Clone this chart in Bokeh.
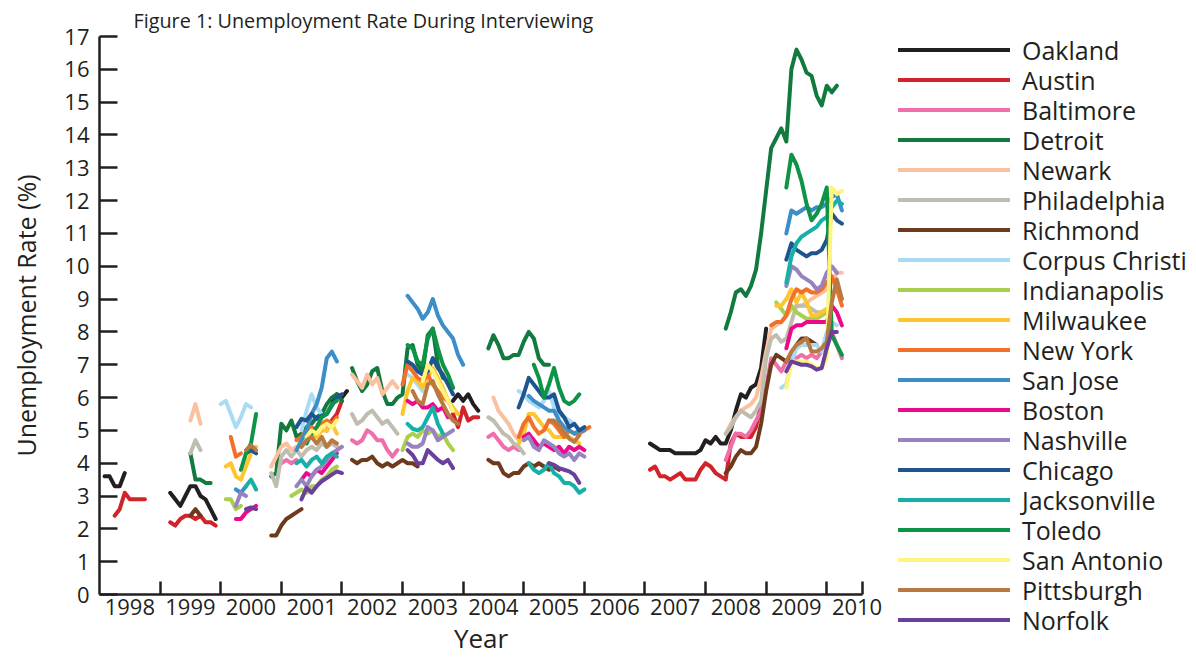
import numpy as np
from bokeh.plotting import figure
from bokeh.layouts import row
from bokeh.models import FixedTicker, Range1d, Div
from bokeh.embed import file_html
from bokeh.resources import INLINE

# ---------------- data ----------------
cities = ["Oakland", "Austin", "Baltimore", "Detroit", "Newark", "Philadelphia",
          "Richmond", "Corpus Christi", "Indianapolis", "Milwaukee", "New York",
          "San Jose", "Boston", "Nashville", "Chicago", "Jacksonville", "Toledo",
          "San Antonio", "Pittsburgh", "Norfolk"]
colors = ["#231f20", "#d2232a", "#f06ea9", "#127a3e", "#fbc0a0", "#bebdb0",
          "#6e3a1e", "#a9dcf4", "#a9cf4f", "#fdc62f", "#f3702b", "#3c8ec8",
          "#eb0a8c", "#9683c0", "#1e5590", "#17b0a7", "#0d9447", "#fff47e",
          "#b97a42", "#6a409c"]

# each series: list of (first month "YYYY-MM", monthly unemployment rates %)
oakland = [("1998-02", [3.6, 3.6, 3.3, 3.3, 3.7]),
           ("1999-03", [3.1, 2.9, 2.7, 3.0, 3.3, 3.3, 3.0, 2.9, 2.6, 2.3]),
           ("2001-11", [5.9, 6.1, 6.0, 6.2]),
           ("2003-11", [5.9, 6.1, 5.9, 6.1, 5.8, 5.6]),
           ("2007-02", [4.6, 4.5, 4.4, 4.4, 4.4, 4.3, 4.3, 4.3, 4.3, 4.3, 4.4, 4.7,
                        4.6, 4.8, 4.6, 4.6, 5.0, 5.6, 6.1, 6.0, 6.3, 6.4, 6.9, 8.1])]
austin = [("1998-04", [2.4, 2.6, 3.1, 2.9, 2.9, 2.9, 2.9]),
          ("1999-03", [2.2, 2.1, 2.3, 2.4, 2.4, 2.3, 2.4, 2.2, 2.2, 2.1]),
          ("2001-10", [5.0, 5.3, 5.5, 5.9]),
          ("2003-11", [5.5, 5.1, 5.7, 5.3, 5.4, 5.4]),
          ("2007-02", [3.8, 3.9, 3.6, 3.6, 3.5, 3.6, 3.7, 3.5, 3.5, 3.5, 3.8, 4.0,
                       3.9, 3.7, 3.6, 3.5, 4.6, 4.9, 4.8, 4.8, 4.8, 5.1, 5.8])]
baltimore = [("2001-01", [4.0, 4.1, 4.0, 4.1]),
             ("2002-03", [4.7, 4.6, 4.7, 5.0, 4.9, 4.7, 4.7, 4.4, 4.2, 4.4]),
             ("2004-06", [4.8, 4.9, 4.7, 4.5, 4.4, 4.5, 4.4]),
             ("2008-05", [4.1, 4.5, 4.9, 4.9, 4.8, 5.0, 5.3, 5.6, 6.3, 7.2, 7.0, 6.8,
                          7.1, 7.2, 7.2, 7.3, 7.2, 7.3, 7.2, 7.4, 7.6, 8.0, 7.6, 7.2])]
detroit = [("1999-07", [4.3, 3.5, 3.5, 3.4, 3.4]),
           ("2000-11", [3.6, 3.7, 5.2, 5.0, 5.3, 4.8, 4.9, 5.1, 5.2, 5.4, 5.5, 5.8,
                        6.0, 6.1, 5.9]),
           ("2002-03", [6.9, 6.5, 6.2, 6.4, 6.8, 6.9, 6.2, 5.8, 5.8, 6.0, 6.1, 7.5,
                        7.6, 7.0, 6.8, 7.9, 8.1, 7.0, 6.6, 6.5, 6.3]),
           ("2004-06", [7.5, 7.9, 7.6, 7.2, 7.2, 7.3, 7.3, 7.7, 8.0, 7.8, 7.2, 7.0, 7.0]),
           ("2008-05", [8.1, 8.6, 9.2, 9.3, 9.1, 9.4, 9.9, 11.0, 12.3, 13.6, 13.9, 14.2,
                        13.8, 16.0, 16.6, 16.3, 15.9, 15.8, 15.2, 14.9, 15.5, 15.3, 15.5])]
newark = [("1999-07", [5.3, 5.8, 5.2]),
          ("2000-11", [3.9, 4.2, 4.5, 4.6, 4.4, 4.5]),
          ("2002-03", [6.7, 6.5, 6.3, 6.7, 6.4, 6.6, 6.1, 6.3, 6.5, 6.3]),
          ("2004-07", [6.0, 5.6, 5.4, 5.2, 4.9, 4.7]),
          ("2008-05", [4.9, 5.2, 5.4, 5.6, 5.7, 5.8, 6.0, 6.6, 7.4, 8.1, 8.2, 8.3,
                       8.5, 8.7, 8.8, 8.8, 8.9, 9.0, 9.1, 9.2, 9.3, 9.5, 9.8, 9.8])]
philadelphia = [("1999-07", [4.3, 4.7, 4.4]),
                ("2000-11", [3.7, 3.3, 4.2, 4.4, 4.2, 4.4, 4.2, 4.4, 4.5, 4.4, 4.6, 4.5,
                             4.6, 4.5]),
                ("2002-03", [5.5, 5.2, 5.3, 5.5, 5.6, 5.4, 5.2, 5.3, 5.1, 4.9]),
                ("2004-06", [5.4, 5.3, 5.1, 4.9, 4.8, 4.6, 4.5, 4.3]),
                ("2008-05", [4.9, 5.1, 5.4, 5.6, 5.5, 5.4, 5.6, 5.9, 7.2, 7.8, 7.9, 7.7,
                             7.8, 8.3, 8.8, 8.8, 8.8, 8.7, 8.6, 8.6, 8.7])]
richmond = [("1999-07", [2.4, 2.6, 2.4]),
            ("2000-11", [1.8, 1.8, 2.1, 2.3, 2.4, 2.5, 2.6]),
            ("2002-03", [4.1, 4.0, 4.1, 4.1, 4.2, 4.0, 3.9, 4.0, 3.9, 4.0, 4.1, 4.0, 4.0, 3.9]),
            ("2004-06", [4.1, 4.0, 4.0, 3.7, 3.6, 3.7, 3.7, 3.9, 4.0, 3.9, 4.0, 3.9, 3.8, 3.9, 3.8]),
            ("2008-05", [3.7, 3.9, 4.2, 4.4, 4.3, 4.3, 4.5, 5.2, 6.2, 7.0, 7.3, 7.2,
                         7.1, 7.3, 7.6, 7.8, 7.8, 7.7, 7.6])]
corpus_christi = [("2000-01", [5.8, 5.9, 5.5, 5.1, 5.4, 5.8, 5.7]),
                  ("2001-05", [5.0, 5.6, 6.1, 5.7, 5.5]),
                  ("2003-02", [6.7, 6.6, 6.4, 6.2]),
                  ("2004-12", [6.2, 6.1, 5.9, 5.8, 5.7, 5.9, 6.2, 5.7, 5.5, 5.4, 5.3, 5.2]),
                  ("2009-04", [6.3, 6.4, 7.1, 7.5, 7.6, 7.6, 7.6, 7.6, 7.4, 8.0, 8.3, 8.2])]
indianapolis = [("2000-02", [2.9, 2.9, 2.6, 2.7]),
                ("2001-03", [3.0, 3.1, 3.2, 3.1, 3.3, 3.3, 3.5, 3.6, 3.8, 3.9]),
                ("2003-01", [4.4, 4.8, 4.9, 4.8, 5.0, 4.9, 5.0, 4.8, 4.9, 4.6, 4.4]),
                ("2009-03", [8.9, 8.7, 8.5, 8.8, 8.6, 8.5, 8.4, 8.4, 8.4, 8.5, 8.6])]
milwaukee = [("2000-02", [3.9, 4.0, 3.6, 3.5, 3.9, 4.3, 4.5]),
             ("2001-05", [4.5, 4.7, 4.9, 4.8, 5.0, 5.0, 5.2, 4.9]),
             ("2003-01", [5.5, 6.2, 6.6, 6.5, 6.3, 6.6, 6.9, 6.6, 6.3, 5.9, 5.7, 5.5]),
             ("2004-12", [4.6, 4.9, 5.5, 5.5, 5.3, 5.1, 5.0, 4.8, 4.8, 4.8, 4.8, 4.7, 4.6]),
             ("2009-03", [8.8, 8.8, 9.0, 9.3, 8.9, 9.2, 8.9, 8.5, 8.5, 8.6, 8.7])]
new_york = [("2000-03", [4.8, 4.2, 4.3]),
            ("2001-04", [4.7, 4.8, 5.0, 5.1, 5.0, 5.2, 5.3, 5.2, 5.4]),
            ("2003-01", [6.4, 7.0, 6.8, 6.6, 6.5, 6.7, 6.4, 6.2, 6.0, 5.9, 5.6]),
            ("2004-12", [4.8, 5.2, 5.4, 5.1, 4.9, 5.0, 5.3, 5.2, 5.0, 4.8, 5.0, 4.9, 4.9, 5.0, 5.1]),
            ("2009-02", [8.2, 8.3, 8.3, 8.5, 9.0, 9.3, 9.2, 9.3, 9.2, 9.2, 9.3, 9.5, 9.7, 9.3, 8.8])]
san_jose = [("2000-04", [3.2, 3.1, 3.3]),
            ("2001-04", [4.4, 4.7, 5.0, 5.5, 5.8, 6.3, 7.2, 7.4, 7.1]),
            ("2003-02", [9.1, 8.9, 8.7, 8.4, 8.6, 9.0, 8.5, 8.2, 8.0, 7.8, 7.3, 7.0]),
            ("2005-02", [6.05, 5.9, 5.8, 5.7, 5.6, 5.6, 5.3, 5.1, 5.0, 4.9, 5.0, 5.0]),
            ("2009-05", [11.0, 11.7, 11.6, 11.7, 11.8, 11.7, 11.8, 11.8, 11.9, 12.1, 12.2, 11.7])]
boston = [("2000-04", [2.3, 2.3, 2.5, 2.6, 2.7]),
          ("2001-05", [3.5, 3.7, 3.6, 3.8, 3.7, 3.9, 4.1, 4.3]),
          ("2003-02", [5.9, 5.8, 5.9, 5.7, 5.7, 5.8, 5.6, 5.7, 5.4]),
          ("2005-01", [4.8, 4.9, 4.7, 4.5, 4.6, 4.5, 4.4, 4.5, 4.3, 4.5, 4.4, 4.5, 4.4]),
          ("2009-05", [7.5, 8.1, 8.2, 8.2, 8.3, 8.3, 8.3, 8.3, 8.3, 8.8, 8.6, 8.2])]
nashville = [("2000-04", [2.7, 3.1, 3.0]),
             ("2001-04", [3.3, 3.5, 3.3, 3.6, 3.8, 3.9, 4.1, 4.3, 4.4, 4.5]),
             ("2003-02", [4.6, 4.5, 4.5, 4.6, 5.1, 5.0, 4.7, 4.8, 4.9, 5.0]),
             ("2005-01", [4.7, 4.8, 4.5, 4.4, 4.7, 4.6, 4.5, 4.3, 4.2, 4.3, 4.1, 4.3, 4.2]),
             ("2009-05", [9.4, 10.0, 9.9, 9.7, 9.6, 9.5, 9.3, 9.4, 9.8, 10.0, 9.8])]
chicago = [("2000-06", [4.3, 4.4, 4.3]),
           ("2001-04", [5.1, 5.35, 5.3, 5.5, 5.35, 5.45, 5.5, 5.75, 6.0, 6.1]),
           ("2003-02", [7.1, 7.0, 6.8, 6.7, 6.8, 7.2, 6.9, 6.7, 6.4, 6.1]),
           ("2004-12", [5.7, 6.1, 6.6, 6.4, 6.2, 6.0, 6.0, 6.1, 5.6, 5.4, 5.1, 5.2, 5.0, 5.1]),
           ("2009-05", [10.2, 10.7, 10.5, 10.4, 10.3, 10.4, 10.4, 10.5, 10.8, 11.6, 11.4, 11.3])]
jacksonville = [("2000-06", [3.3, 3.5, 3.2]),
                ("2001-04", [4.0, 4.1, 3.9, 4.1, 4.2, 4.0, 4.2, 4.3, 4.2]),
                ("2003-02", [5.2, 5.05, 5.0, 5.1, 5.4, 5.7, 5.2, 4.9]),
                ("2005-02", [4.0, 3.8, 3.7, 3.8, 4.0, 3.7, 3.6, 3.4, 3.4, 3.3, 3.1, 3.2]),
                ("2009-05", [9.5, 10.3, 10.7, 10.9, 11.0, 11.1, 11.2, 11.4, 11.5, 11.8, 12.0, 11.9])]
toledo = [("2000-05", [3.8, 4.3, 4.6, 5.5]),
          ("2001-06", [4.6, 4.9, 5.1, 5.4, 5.5, 5.8, 5.9]),
          ("2003-02", [7.6, 7.5, 7.1, 7.0, 7.8, 8.1, 7.5, 7.0, 6.7, 6.3]),
          ("2005-03", [7.0, 6.6, 6.0, 6.4, 6.9, 6.3, 5.9, 5.8, 5.9, 6.1]),
          ("2009-05", [12.4, 13.4, 13.1, 12.6, 11.9, 11.4, 11.6, 11.9, 12.4, 7.9, 7.6, 7.3])]
san_antonio = [("2001-06", [4.8, 5.0, 4.9, 5.1, 5.2, 5.1, 5.3]),
               ("2003-05", [6.5, 7.0, 6.8, 6.5, 6.2, 5.9, 5.6]),
               ("2009-05", [6.3, 7.1, 7.1, 7.1, 7.1, 7.0, 6.9, 6.9, 7.2, 12.4, 12.2, 12.3])]
pittsburgh = [("2000-06", [4.4, 4.55, 4.4]),
              ("2001-05", [4.5, 4.7, 4.8, 4.6, 4.8, 4.5, 4.7, 4.6]),
              ("2003-03", [6.2, 5.9, 5.8, 6.4, 6.5, 6.1, 5.8, 5.5, 5.3, 5.2]),
              ("2005-06", [5.3, 5.3, 5.15, 4.95, 4.75, 4.65, 4.85]),
              ("2009-05", [7.1, 7.4, 7.6, 7.7, 7.8, 7.4, 7.4, 7.5, 7.7, 8.9, 9.6, 9.0])]
norfolk = [("2000-06", [2.6, 2.65, 2.6]),
           ("2001-05", [2.9, 3.25, 3.1, 3.3, 3.45, 3.55, 3.65, 3.75, 3.7]),
           ("2003-02", [4.4, 4.25, 4.0, 4.0, 4.4, 4.25, 4.1, 4.0, 4.1, 3.85]),
           ("2005-06", [4.0, 3.95, 3.85, 3.8, 3.75, 3.65, 3.4]),
           ("2009-05", [6.8, 7.1, 7.05, 7.0, 7.0, 6.95, 6.85, 6.9, 7.5, 8.0, 8.0])]

series = [oakland, austin, baltimore, detroit, newark, philadelphia, richmond,
          corpus_christi, indianapolis, milwaukee, new_york, san_jose, boston,
          nashville, chicago, jacksonville, toledo, san_antonio, pittsburgh, norfolk]

years = list(range(1998, 2011))
year_labels = [str(y) for y in years]
y_ticks = list(range(0, 18))
x_start, x_end = 1998.0, 2010.59


def to_xy(segments):
    xs, ys = [], []
    for start, vals in segments:
        yr, mo = (int(s) for s in start.split("-"))
        base = yr + (mo - 1) / 12.0
        if xs:
            xs.append(np.nan)
            ys.append(np.nan)
        for i, v in enumerate(vals):
            xs.append(base + i / 12.0)
            ys.append(v)
    return np.array(xs), np.array(ys)


# ---------------- main chart ----------------
FONT = "Open Sans"
INK = "#231f20"
W, H = 1196, 662
MAIN_W = 890

p = figure(width=MAIN_W, height=H, output_backend="svg", toolbar_location=None,
           x_range=Range1d(x_start, x_end), y_range=Range1d(0, 17),
           min_border_left=99, min_border_right=28, min_border_top=36,
           min_border_bottom=68,
           title="Figure 1: Unemployment Rate During Interviewing")
p.outline_line_color = None
p.grid.visible = False
p.background_fill_color = "white"
p.border_fill_color = "white"

p.title.align = "left"
p.title.offset = 34
p.title.text_font = FONT
p.title.text_font_size = "19.8px"
p.title.text_font_style = "normal"
p.title.text_color = INK
p.title.standoff = 5

# x axis: ticks at year boundaries (minor), labels centred in each year (major)
xa = p.xaxis[0]
xa.ticker = FixedTicker(ticks=[y + 0.5 for y in years],
                        minor_ticks=years[1:] + [x_end])
xa.major_label_overrides = {y + 0.5: lab for y, lab in zip(years, year_labels)}
xa.major_tick_in = 0
xa.major_tick_out = 0
xa.minor_tick_in = 13
xa.minor_tick_out = 0
xa.minor_tick_line_width = 2.5
xa.minor_tick_line_color = INK
xa.axis_line_width = 2.5
xa.axis_line_color = INK
xa.major_label_text_font = FONT
xa.major_label_text_font_size = "22px"
xa.major_label_text_color = INK
xa.major_label_standoff = 4
xa.axis_label = "Year"
xa.axis_label_text_font = FONT
xa.axis_label_text_font_size = "26px"
xa.axis_label_text_font_style = "normal"
xa.axis_label_text_color = INK
xa.axis_label_standoff = 2

ya = p.yaxis[0]
ya.ticker = FixedTicker(ticks=y_ticks)
ya.major_tick_in = 18
ya.major_tick_out = 0
ya.major_tick_line_width = 2.5
ya.major_tick_line_color = INK
ya.minor_tick_line_color = None
ya.axis_line_width = 2.5
ya.axis_line_color = INK
ya.major_label_text_font = FONT
ya.major_label_text_font_size = "22px"
ya.major_label_text_color = INK
ya.major_label_standoff = 10
ya.axis_label = "Unemployment Rate (%)"
ya.axis_label_text_font = FONT
ya.axis_label_text_font_size = "25px"
ya.axis_label_text_font_style = "normal"
ya.axis_label_text_color = INK
ya.axis_label_standoff = 18

for col, segs in zip(colors, series):
    xs, ys = to_xy(segs)
    p.line(xs, ys, line_color=col, line_width=4, line_join="round", line_cap="round")

# ---------------- legend (HTML, built from the city / colour lists) ----------------
LW = W - MAIN_W
row_html = []
for name, col in zip(cities, colors):
    row_html.append(
        '<div style="height:30px;display:flex;align-items:center;white-space:nowrap;">'
        f'<span style="display:inline-block;width:112px;height:4.5px;background:{col};'
        'margin-right:12px;flex:none;"></span>'
        f'<span style="line-height:30px;">{name}</span></div>')
legend_html = (f'<div style="font-family:\'{FONT}\';font-size:25px;color:{INK};'
               'padding:35px 0 0 8px;margin:0;">' + "".join(row_html) + "</div>")
legend = Div(text=legend_html, width=LW, height=H, margin=0)

open("out.html", "w").write(file_html(row(p, legend), INLINE))
